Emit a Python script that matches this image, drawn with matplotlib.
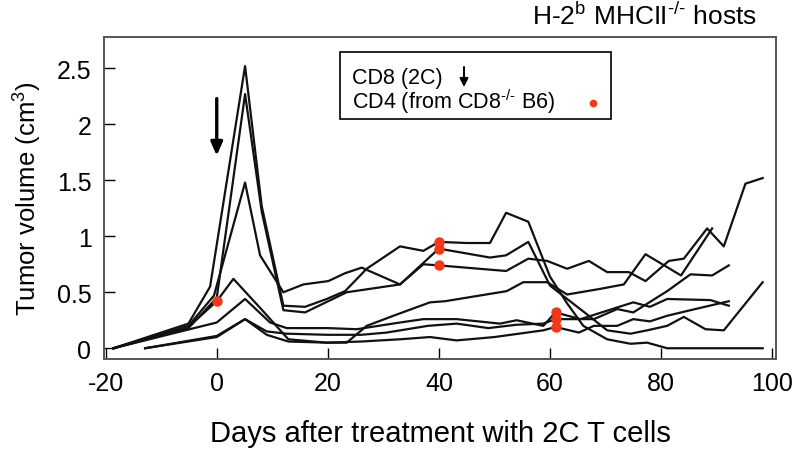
import matplotlib

matplotlib.use("Agg")
import matplotlib.pyplot as plt
from matplotlib.lines import Line2D
from matplotlib.patches import FancyArrowPatch, Rectangle
import numpy as np

# tumor volume per mouse (cm3) against days after 2C T cell transfer
days_a = [-18.6, -5.1, -1.2, 5.1, 8.1, 12.0, 15.9, 19.8, 23.1, 27.0, 33.0, 37.2, 40.0, 45.0, 49.2,
          52.1, 56.1, 60.0, 63.1, 66.0, 70.3, 74.5, 77.5, 81.1, 98.3]
vol_a = [0.0, 0.22, 0.55, 2.52, 1.27, 0.38, 0.37, 0.44, 0.51, 0.71, 0.91, 0.87, 0.95, 0.94, 0.94,
         1.21, 1.13, 0.64, 0.40, 0.20, 0.08, 0.04, 0.05, 0.0, 0.0]

days_b = [-18.6, -5.1, -0.5, 5.1, 7.8, 12.0, 15.6, 20.1, 23.1, 26.1, 33.0, 40.0, 49.2, 52.1, 56.1,
          60.0, 63.1, 67.0, 70.3, 74.5, 77.5, 81.1, 84.1, 88.0, 91.3, 98.3]
vol_b = [0.0, 0.20, 0.47, 1.48, 0.83, 0.50, 0.57, 0.60, 0.67, 0.72, 0.57, 0.89, 0.81, 0.83, 0.95,
         0.56, 0.44, 0.29, 0.16, 0.13, 0.16, 0.20, 0.28, 0.17, 0.16, 0.59]

days_c = [-18.6, -5.1, 0.0, 5.1, 8.1, 12.0, 15.9, 23.4, 33.0, 37.2, 40.0, 52.1, 56.1, 59.5, 63.1,
          67.0, 70.3, 74.2, 77.2, 81.4, 84.1, 88.3, 91.3, 95.2, 98.3]
vol_c = [0.0, 0.18, 0.45, 2.27, 1.22, 0.34, 0.32, 0.50, 0.57, 0.75, 0.74, 0.69, 0.80, 0.78, 0.71,
         0.78, 0.68, 0.68, 0.60, 0.78, 0.80, 1.07, 0.91, 1.47, 1.52]

days_m = [-18.6, -5.1, 0.0, 3.0, 8.0, 12.9, 19.8, 23.4, 27.0, 31.8, 38.4, 41.1, 52.2, 55.2, 59.5,
          63.1, 69.0, 73.3, 77.2, 83.6, 89.2]
vol_m = [0.0, 0.19, 0.42, 0.62, 0.35, 0.08, 0.05, 0.05, 0.20, 0.29, 0.41, 0.42, 0.51, 0.59, 0.59,
         0.48, 0.53, 0.57, 0.84, 0.65, 1.07]

days_l1 = [-18.6, -8.1, 0.0, 5.1, 9.6, 12.6, 20.0, 25.2, 33.0, 37.2, 43.2, 51.0, 54.0, 58.8, 61.0,
           65.5, 75.0, 78.0, 81.1, 88.9, 92.2]
vol_l1 = [0.0, 0.13, 0.23, 0.44, 0.23, 0.18, 0.18, 0.17, 0.23, 0.26, 0.26, 0.22, 0.25, 0.20, 0.32,
          0.26, 0.41, 0.37, 0.44, 0.43, 0.38]

days_l2 = [-12.9, 0.0, 5.1, 9.0, 12.6, 20.0, 26.0, 30.6, 38.0, 43.2, 48.9, 54.0, 58.8, 61.0, 67.9,
           72.1, 75.0, 81.1, 85.3, 89.2, 92.2]
vol_l2 = [0.0, 0.11, 0.26, 0.15, 0.13, 0.12, 0.12, 0.14, 0.20, 0.22, 0.18, 0.21, 0.22, 0.26, 0.26,
          0.35, 0.32, 0.51, 0.66, 0.65, 0.74]

days_l3 = [-12.9, 0.0, 5.1, 9.0, 12.9, 19.8, 26.0, 33.0, 38.4, 43.2, 50.0, 58.8, 61.0, 65.2, 67.9,
           72.1, 75.0, 78.0, 81.1, 85.3, 92.2]
vol_l3 = [0.0, 0.10, 0.26, 0.12, 0.06, 0.05, 0.06, 0.08, 0.10, 0.07, 0.10, 0.16, 0.19, 0.14, 0.20,
          0.20, 0.26, 0.24, 0.29, 0.34, 0.42]

# day each mouse got CD4 T cells (red dot)
cd4_day_a = 40.0
cd4_day_b = 40.0
cd4_day_c = 40.0
cd4_day_m = 0.0
cd4_day_l1 = 61.0
cd4_day_l2 = 61.0
cd4_day_l3 = 61.0

cd8_day = 0
x_ticks = [-20, 0, 20, 40, 60, 80, 100]
y_ticks = [0, 0.5, 1, 1.5, 2, 2.5]
y_tick_labels = ["0", "0.5", "1", "1.5", "2", "2.5"]

LINE_COLOR = "#111111"
DOT_COLOR = "#f2371b"
SPINE_COLOR = "#555555"

plt.rcParams.update(
    {
        "font.family": ["Liberation Sans", "DejaVu Sans"],
        "axes.unicode_minus": False,
        "mathtext.fontset": "custom",
        "mathtext.rm": "Liberation Sans",
        "mathtext.it": "Liberation Sans:italic",
        "mathtext.bf": "Liberation Sans:bold",
    }
)

fig = plt.figure(figsize=(8, 4.6), dpi=100)
ax = fig.add_axes([0.13, 0.2174, 0.84, 0.70])

mice = [
    (days_a, vol_a, cd4_day_a),
    (days_b, vol_b, cd4_day_b),
    (days_c, vol_c, cd4_day_c),
    (days_m, vol_m, cd4_day_m),
    (days_l1, vol_l1, cd4_day_l1),
    (days_l2, vol_l2, cd4_day_l2),
    (days_l3, vol_l3, cd4_day_l3),
]
for days, vol, cd4_day in mice:
    ax.plot(days, vol, color=LINE_COLOR, linewidth=1.6, zorder=2)
for days, vol, cd4_day in mice:
    ax.plot(cd4_day, np.interp(cd4_day, days, vol), "o", color=DOT_COLOR, markersize=7.5,
            markeredgewidth=0, zorder=3)

# CD8 transfer arrow
ax.annotate("", xy=(cd8_day, 1.72), xytext=(cd8_day, 2.23),
            arrowprops=dict(arrowstyle="-|>,head_width=0.35,head_length=0.8", color="black",
                            linewidth=2.4, shrinkA=0, shrinkB=0))

ax.set_xlim(-20.3, 100.7)
ax.set_ylim(-0.096, 2.78)
ax.set_xticks(x_ticks)
ax.set_yticks(y_ticks)
ax.set_yticklabels(y_tick_labels)
ax.tick_params(direction="in", length=8, width=1.0, colors="black", labelsize=18, pad=9)
for spine in ax.spines.values():
    spine.set_color(SPINE_COLOR)
    spine.set_linewidth(1.4)

ax.set_xlabel("Days after treatment with 2C T cells", fontsize=21, labelpad=17)
ax.set_ylabel("Tumor volume (cm$^3$)", fontsize=18.5, labelpad=9)

fig.text(757 / 800, 1 - 25 / 460, r"H-2$^{\mathrm{b}}$ MHCII$^{\text{-/-}}$ hosts", fontsize=19,
         ha="right", va="baseline")

# legend box
fig.patches.append(Rectangle((340 / 800, 1 - 120 / 460), 271 / 800, 67 / 460, transform=fig.transFigure,
                             fill=False, edgecolor="black", linewidth=1.2))
fig.text(352 / 800, 1 - 84 / 460, "CD8 (2C)", fontsize=15.5, ha="left", va="baseline")
fig.text(352 / 800, 1 - 109 / 460, r"CD4 (from CD8$^{\text{-/-}}$ B6)", fontsize=15.5, ha="left", va="baseline")
fig.add_artist(FancyArrowPatch((464 / 800, 1 - 68 / 460), (464 / 800, 1 - 88 / 460),
                               transform=fig.transFigure, arrowstyle="-|>,head_width=2.5,head_length=5",
                               color="black", linewidth=1.4, shrinkA=0, shrinkB=0))
fig.add_artist(Line2D([593 / 800], [1 - 104 / 460], marker="o", color=DOT_COLOR,
                      markersize=5.5, markeredgewidth=0, transform=fig.transFigure))

fig.savefig("out.png", dpi=100)
